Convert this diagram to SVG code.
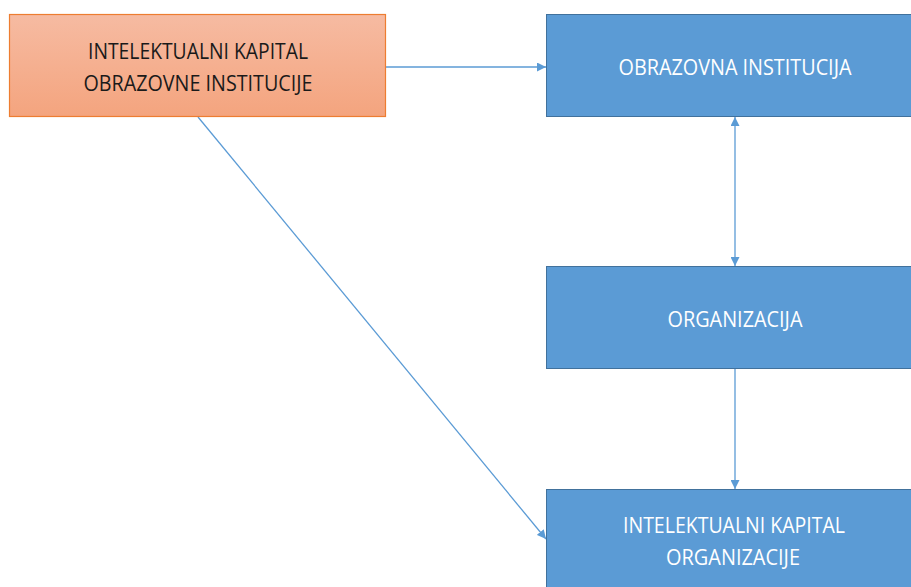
<svg xmlns="http://www.w3.org/2000/svg" width="911" height="587" viewBox="0 0 911 587">
<defs>
<linearGradient id="og" x1="0" y1="0" x2="0" y2="1">
<stop offset="0" stop-color="#f6bba2"/>
<stop offset="1" stop-color="#f4a47e"/>
</linearGradient>
<marker id="ah" viewBox="0 0 10 10" refX="10" refY="5" markerWidth="9" markerHeight="9" markerUnits="userSpaceOnUse" orient="auto-start-reverse">
<path d="M0,0 L10,5 L0,10 z" fill="#5b9bd5"/>
</marker>
<style>
.blue{fill:#5b9bd5;stroke:#41719c;stroke-width:1}
.orange{fill:url(#og);stroke:#ed7d31;stroke-width:1.2}
.t{font-family:"Open Sans","Liberation Sans",sans-serif;font-size:22px;text-anchor:middle}
.w{fill:#ffffff}
.k{fill:#1a1a1a}
.c{stroke:#5b9bd5;stroke-width:1.3;fill:none}
</style>
</defs>
<rect width="911" height="587" fill="#ffffff"/>
<g id="connectors">
<line class="c" x1="386" y1="67" x2="546" y2="67" marker-end="url(#ah)"/>
<line class="c" x1="735" y1="117" x2="735" y2="266" marker-start="url(#ah)" marker-end="url(#ah)"/>
<line class="c" x1="735" y1="368" x2="735" y2="489" marker-end="url(#ah)"/>
<line class="c" x1="198" y1="117" x2="546" y2="539" marker-end="url(#ah)"/>
</g>
<g id="node-ik-obrazovne">
<rect class="orange" x="9.5" y="14.5" width="376" height="102"/>
<text class="t k" x="198" y="59" textLength="220" lengthAdjust="spacingAndGlyphs">INTELEKTUALNI KAPITAL</text>
<text class="t k" x="198" y="91" textLength="229" lengthAdjust="spacingAndGlyphs">OBRAZOVNE INSTITUCIJE</text>
</g>
<g id="node-obrazovna">
<rect class="blue" x="546.5" y="14.5" width="380" height="102"/>
<text class="t w" x="735" y="75" textLength="233" lengthAdjust="spacingAndGlyphs">OBRAZOVNA INSTITUCIJA</text>
</g>
<g id="node-organizacija">
<rect class="blue" x="546.5" y="266.5" width="380" height="102"/>
<text class="t w" x="735" y="327" textLength="135" lengthAdjust="spacingAndGlyphs">ORGANIZACIJA</text>
</g>
<g id="node-ik-organizacije">
<rect class="blue" x="546.5" y="489.5" width="380" height="110"/>
<text class="t w" x="734" y="533" textLength="222" lengthAdjust="spacingAndGlyphs">INTELEKTUALNI KAPITAL</text>
<text class="t w" x="733" y="565" textLength="134" lengthAdjust="spacingAndGlyphs">ORGANIZACIJE</text>
</g>
</svg>
